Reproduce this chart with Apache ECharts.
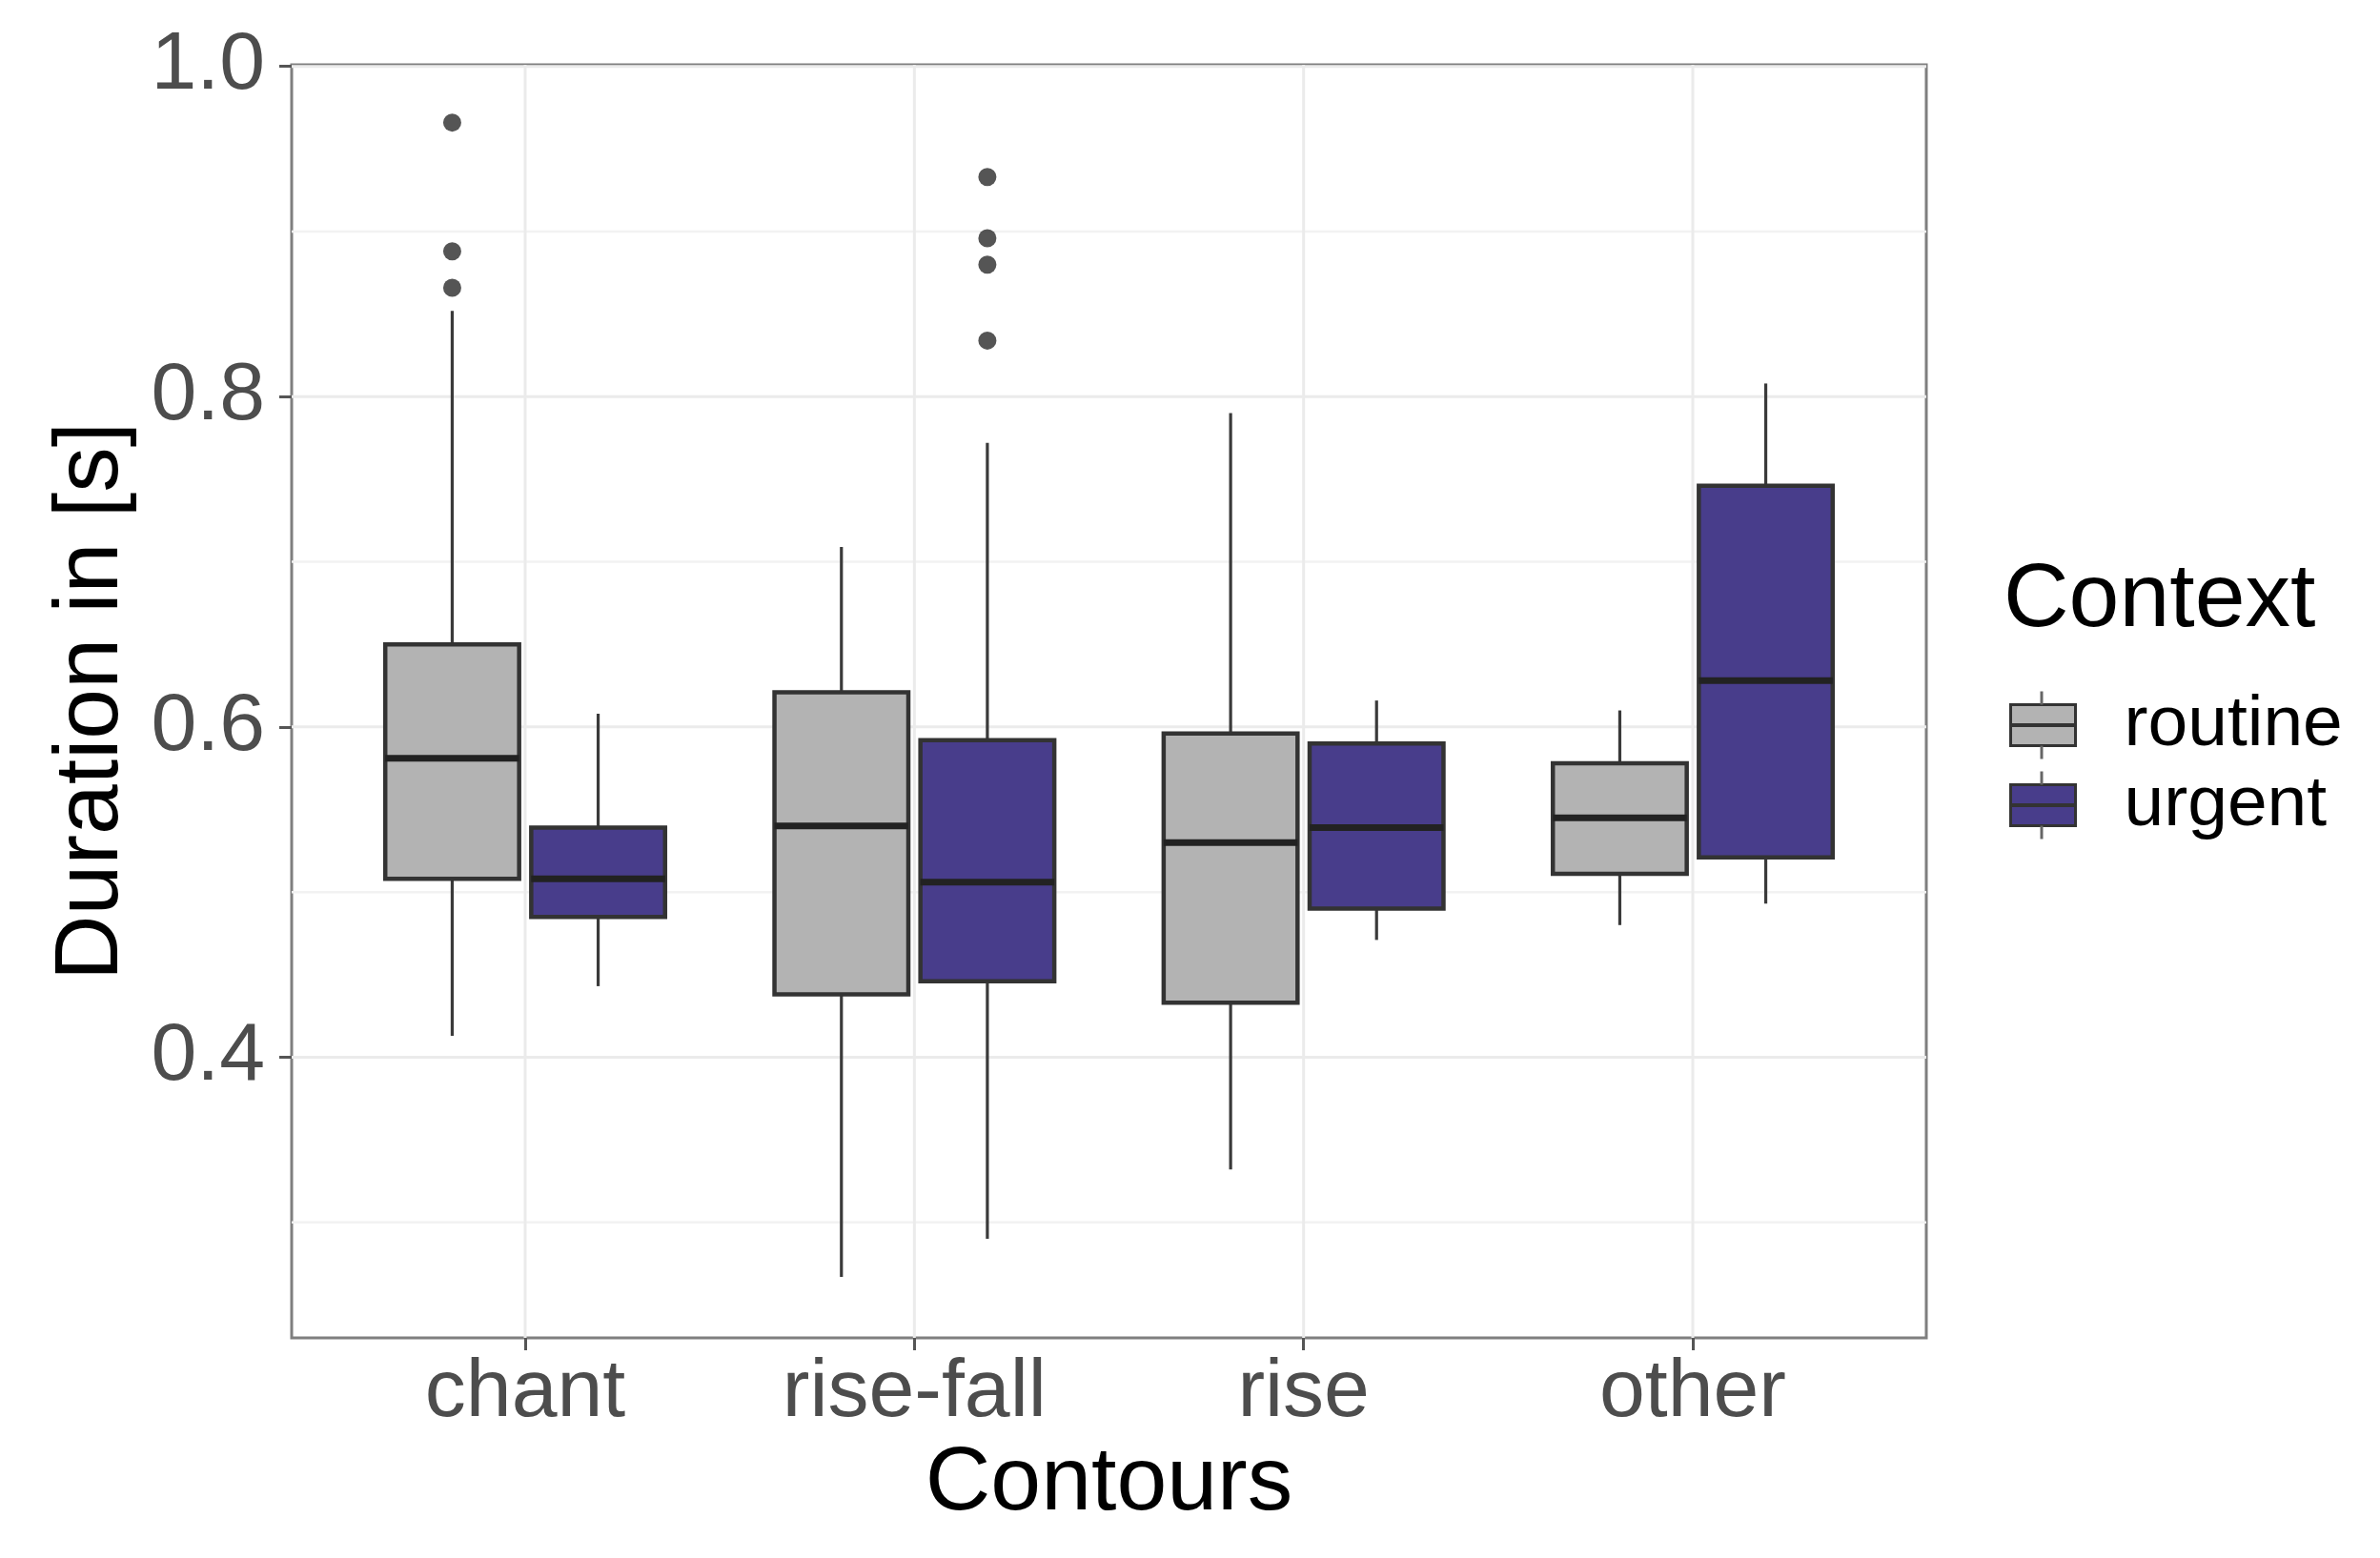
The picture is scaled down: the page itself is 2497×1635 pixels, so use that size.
<!DOCTYPE html>
<html><head><meta charset="utf-8">
<script src="https://cdn.jsdelivr.net/npm/echarts@6/dist/echarts.min.js"></script>
<style>html,body{margin:0;padding:0;background:#fff}#c{width:2497px;height:1635px}</style>
</head><body><div id="c"></div>
<script>
// ---- data ----
const categories = ['chant', 'rise-fall', 'rise', 'other'];
const contexts = ['routine', 'urgent'];
// [lower whisker, Q1, median, Q3, upper whisker]
const routineStats = [
  [0.413, 0.508, 0.581, 0.650, 0.852],
  [0.267, 0.438, 0.540, 0.621, 0.709],
  [0.332, 0.433, 0.530, 0.596, 0.790],
  [0.480, 0.511, 0.545, 0.578, 0.610]
];
const urgentStats = [
  [0.443, 0.485, 0.508, 0.539, 0.608],
  [0.290, 0.446, 0.506, 0.592, 0.772],
  [0.471, 0.490, 0.539, 0.590, 0.616],
  [0.493, 0.521, 0.628, 0.746, 0.808]
];
// [category index, value]
const routineOutliers = [[0, 0.966], [0, 0.888], [0, 0.866]];
const urgentOutliers = [[1, 0.933], [1, 0.896], [1, 0.880], [1, 0.834]];
const yTickValues = [0.4, 0.6, 0.8, 1.0];
const yMinorValues = [0.3, 0.5, 0.7, 0.9];

// ---- layout / style ----
const X_MIN = 0.4, X_MAX = 4.6, Y_MIN = 0.230, Y_MAX = 1.001;
const DODGE = 0.1875, BOX_HALF = 0.172;
const FONT = "'Liberation Sans', Arial, sans-serif";
const colors = { routine: '#b3b3b3', urgent: '#483d8b' };

const chart = echarts.init(document.getElementById('c'), null, { renderer: 'canvas' });

const gridData = [
  ...yMinorValues.map(v => [0, v]),
  ...yTickValues.map(v => [1, v]),
  ...categories.map((c, i) => [2, i + 1])
];

function boxSeries(name, stats, offset) {
  const fill = colors[name];
  return {
    type: 'custom', name, z: 3, silent: true,
    data: stats.map((s, i) => [i + 1, ...s]),
    encode: { x: 0, y: [1, 2, 3, 4, 5] },
    itemStyle: { color: fill, borderColor: '#333' },
    renderItem(params, api) {
      const xc = api.value(0) + offset;
      const lo = api.value(1), q1 = api.value(2), med = api.value(3), q3 = api.value(4), hi = api.value(5);
      const tl = api.coord([xc - BOX_HALF, q3]);
      const br = api.coord([xc + BOX_HALF, q1]);
      const top = api.coord([xc, hi]);
      const bot = api.coord([xc, lo]);
      const m1 = api.coord([xc - BOX_HALF, med]);
      const m2 = api.coord([xc + BOX_HALF, med]);
      return {
        type: 'group',
        children: [
          { type: 'line', shape: { x1: top[0], y1: top[1], x2: top[0], y2: tl[1] }, style: { stroke: '#3a3a3a', lineWidth: 3.2 } },
          { type: 'line', shape: { x1: bot[0], y1: br[1], x2: bot[0], y2: bot[1] }, style: { stroke: '#3a3a3a', lineWidth: 3.2 } },
          { type: 'rect', shape: { x: tl[0], y: tl[1], width: br[0] - tl[0], height: br[1] - tl[1] }, style: { fill, stroke: '#333', lineWidth: 4.5 } },
          { type: 'line', shape: { x1: m1[0], y1: m1[1], x2: m2[0], y2: m2[1] }, style: { stroke: '#222', lineWidth: 7 } }
        ]
      };
    }
  };
}

function outlierSeries(name, pts, offset) {
  return {
    type: 'scatter', name, z: 4, silent: true,
    data: pts.map(([ci, v]) => [ci + 1 + offset, v]),
    symbol: 'circle', symbolSize: 19,
    itemStyle: { color: '#2b2b2b' }
  };
}

// legend geometry
const LEG_LEFT = 2108, KEY_W = 68, KEY_H = 43, LEG_FONT = 75, LEG_GAP = 9;
const FIRST_KEY_TOP = 739.5;
const LEG_TOP = FIRST_KEY_TOP - (LEG_FONT - KEY_H) / 2;
const ROW = LEG_FONT + LEG_GAP;
const legendKeyLines = [];
contexts.forEach((c, i) => {
  const y0 = FIRST_KEY_TOP + i * ROW;
  const xc = LEG_LEFT + KEY_W / 2;
  legendKeyLines.push(
    { type: 'line', z: 100, silent: true, shape: { x1: xc, y1: y0 - 14, x2: xc, y2: y0 }, style: { stroke: '#666', lineWidth: 3 } },
    { type: 'line', z: 100, silent: true, shape: { x1: xc, y1: y0 + KEY_H, x2: xc, y2: y0 + KEY_H + 14 }, style: { stroke: '#666', lineWidth: 3 } },
    { type: 'line', z: 100, silent: true, shape: { x1: LEG_LEFT, y1: y0 + KEY_H / 2, x2: LEG_LEFT + KEY_W, y2: y0 + KEY_H / 2 }, style: { stroke: '#333', lineWidth: 4 } }
  );
});

const option = {
  animation: false,
  backgroundColor: '#fff',
  textStyle: { fontFamily: FONT },
  title: {
    text: 'Context', left: 2097, top: 578,
    textStyle: { fontFamily: FONT, fontSize: 95, fontWeight: 'normal', color: '#000', lineHeight: 95 }
  },
  legend: {
    orient: 'vertical', left: LEG_LEFT, top: LEG_TOP, padding: 0,
    itemWidth: KEY_W, itemHeight: KEY_H, itemGap: LEG_GAP,
    selectedMode: false,
    data: contexts.map(c => ({ name: c, icon: 'rect', itemStyle: { color: colors[c], borderColor: '#333', borderWidth: 3 } })),
    textStyle: { fontFamily: FONT, fontSize: LEG_FONT, color: '#000', padding: [0, 0, 0, 46] }
  },
  grid: {
    left: 306, right: 476, top: 68, bottom: 231,
    show: true, backgroundColor: '#fff', borderColor: '#7f7f7f', borderWidth: 3
  },
  xAxis: {
    type: 'value', min: X_MIN, max: X_MAX,
    name: 'Contours', nameLocation: 'middle', nameGap: 106,
    nameTextStyle: { fontFamily: FONT, fontSize: 95, color: '#000', lineHeight: 95 },
    axisLine: { show: false },
    splitLine: { show: false },
    axisTick: { show: true, customValues: [1, 2, 3, 4], length: 13, lineStyle: { color: '#555', width: 3 } },
    axisLabel: {
      customValues: [1, 2, 3, 4], margin: 15,
      formatter: v => categories[Math.round(v) - 1] || '',
      fontFamily: FONT, fontSize: 86, color: '#4d4d4d', lineHeight: 86
    }
  },
  yAxis: {
    type: 'value', min: Y_MIN, max: Y_MAX,
    name: 'Duration in [s]', nameLocation: 'middle', nameGap: 162,
    nameTextStyle: { fontFamily: FONT, fontSize: 95, color: '#000', lineHeight: 95 },
    axisLine: { show: false },
    splitLine: { show: false },
    axisTick: { show: true, customValues: yTickValues, length: 13, lineStyle: { color: '#555', width: 3 } },
    axisLabel: {
      customValues: yTickValues, margin: 28,
      formatter: v => v.toFixed(1),
      fontFamily: FONT, fontSize: 86, color: '#4d4d4d'
    }
  },
  graphic: legendKeyLines,
  series: [
    {
      type: 'custom', name: 'gridlines', z: 1, silent: true,
      data: gridData,
      encode: { x: 1, y: 1 },
      renderItem(params, api) {
        const kind = api.value(0), v = api.value(1);
        if (kind < 2) {
          const a = api.coord([X_MIN, v]), b = api.coord([X_MAX, v]);
          return { type: 'line', shape: { x1: a[0], y1: a[1], x2: b[0], y2: b[1] },
            style: { stroke: kind === 1 ? '#ebebeb' : '#f2f2f2', lineWidth: kind === 1 ? 3 : 2.5 } };
        }
        const a = api.coord([v, Y_MIN]), b = api.coord([v, Y_MAX]);
        return { type: 'line', shape: { x1: a[0], y1: a[1], x2: b[0], y2: b[1] },
          style: { stroke: '#ebebeb', lineWidth: 3 } };
      }
    },
    boxSeries('routine', routineStats, -DODGE),
    boxSeries('urgent', urgentStats, DODGE),
    outlierSeries('routine', routineOutliers, -DODGE),
    outlierSeries('urgent', urgentOutliers, DODGE)
  ]
};
chart.setOption(option);
</script>
</body></html>
